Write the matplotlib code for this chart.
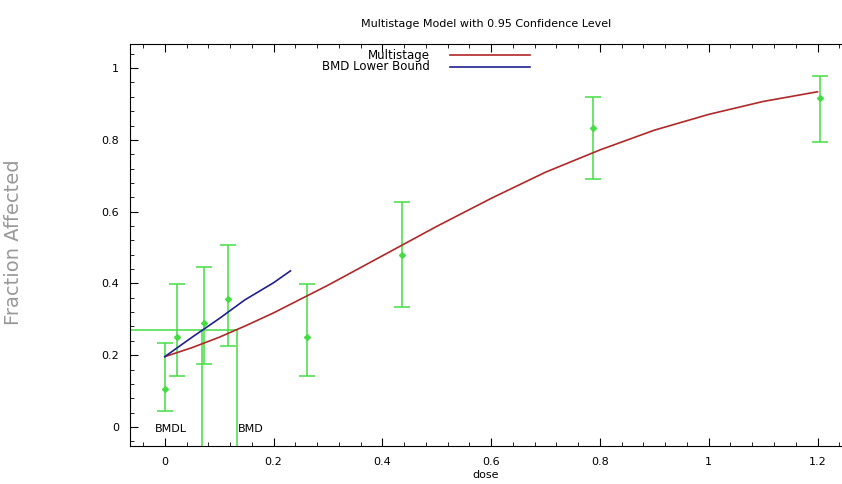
import matplotlib
matplotlib.use("Agg")
import matplotlib.pyplot as plt
from matplotlib.ticker import MultipleLocator

# observed data (dose, fraction affected, CI lower, CI upper)
dose = [0.0, 0.023, 0.072, 0.116, 0.262, 0.436, 0.787, 1.204]
frac = [0.106, 0.251, 0.290, 0.356, 0.250, 0.479, 0.833, 0.916]
ci_lo = [0.045, 0.142, 0.175, 0.226, 0.142, 0.333, 0.691, 0.794]
ci_hi = [0.234, 0.398, 0.445, 0.506, 0.398, 0.626, 0.919, 0.978]

# fitted multistage curve
model_dose = [0.0, 0.05, 0.1, 0.15, 0.2, 0.3, 0.4, 0.5, 0.6, 0.7, 0.8, 0.9, 1.0, 1.1, 1.2]
model_frac = [0.196, 0.221, 0.250, 0.283, 0.318, 0.395, 0.477, 0.559, 0.637, 0.710,
              0.772, 0.827, 0.871, 0.907, 0.934]

# BMD lower bound line
lb_dose = [0.0, 0.05, 0.1, 0.147, 0.2, 0.231]
lb_frac = [0.196, 0.250, 0.302, 0.354, 0.402, 0.435]

bmr_level = 0.271
bmdl = 0.069
bmd = 0.133

fig = plt.figure(figsize=(8.42, 4.84), dpi=100)
ax = fig.add_axes([0.1544, 0.0785, 0.8456, 0.8305])

green = "#44dd44"
red = "#b02828"
blue = "#202090"
yerr = [[f - l for f, l in zip(frac, ci_lo)], [h - f for f, h in zip(frac, ci_hi)]]
ax.errorbar(dose, frac, yerr=yerr, fmt="D", ms=3, color=green, ecolor=green,
            elinewidth=1.1, capsize=6, capthick=1.1, zorder=3)

ax.plot(model_dose, model_frac, color=red, lw=1.2, zorder=4)
ax.plot(lb_dose, lb_frac, color=blue, lw=1.2, zorder=4)

xmin, xmax = -0.064, 1.245
ymin, ymax = -0.053, 1.067
ax.plot([xmin, bmd], [bmr_level, bmr_level], color=green, lw=1.1, zorder=2)
ax.plot([bmdl, bmdl], [ymin, bmr_level], color=green, lw=1.1, zorder=2)
ax.plot([bmd, bmd], [ymin, bmr_level], color=green, lw=1.1, zorder=2)
ax.text(-0.018, -0.005, "BMDL", fontsize=8, va="center", ha="left")
ax.text(0.134, -0.005, "BMD", fontsize=8, va="center", ha="left")

ax.set_xlim(xmin, xmax)
ax.set_ylim(ymin, ymax)
ax.xaxis.set_major_locator(MultipleLocator(0.2))
ax.xaxis.set_minor_locator(MultipleLocator(0.04))
ax.yaxis.set_major_locator(MultipleLocator(0.2))
ax.yaxis.set_minor_locator(MultipleLocator(0.04))
ax.xaxis.set_major_formatter(plt.FuncFormatter(lambda v, p: f"{v:g}"))
ax.yaxis.set_major_formatter(plt.FuncFormatter(lambda v, p: f"{v:g}"))
ax.tick_params(which="both", direction="in", top=True, labelsize=8, pad=8)
ax.tick_params(which="major", length=6)
ax.tick_params(which="minor", length=3)
ax.spines["right"].set_visible(False)

ax.set_title("Multistage Model with 0.95 Confidence Level", fontsize=8, pad=12)
ax.set_xlabel("dose", fontsize=8, labelpad=2)
fig.text(0.016, 0.50, "Fraction Affected", rotation=90, fontsize=14,
         color="#999999", ha="center", va="center")

# legend
fig.text(0.511, 0.886, "Multistage", fontsize=8.5, ha="right", va="center")
fig.text(0.511, 0.862, "BMD Lower Bound", fontsize=8.5, ha="right", va="center")
fig.add_artist(plt.Line2D([0.535, 0.630], [0.886, 0.886], color=red, lw=1.2))
fig.add_artist(plt.Line2D([0.535, 0.630], [0.862, 0.862], color=blue, lw=1.2))

fig.savefig("out.png", dpi=100)
